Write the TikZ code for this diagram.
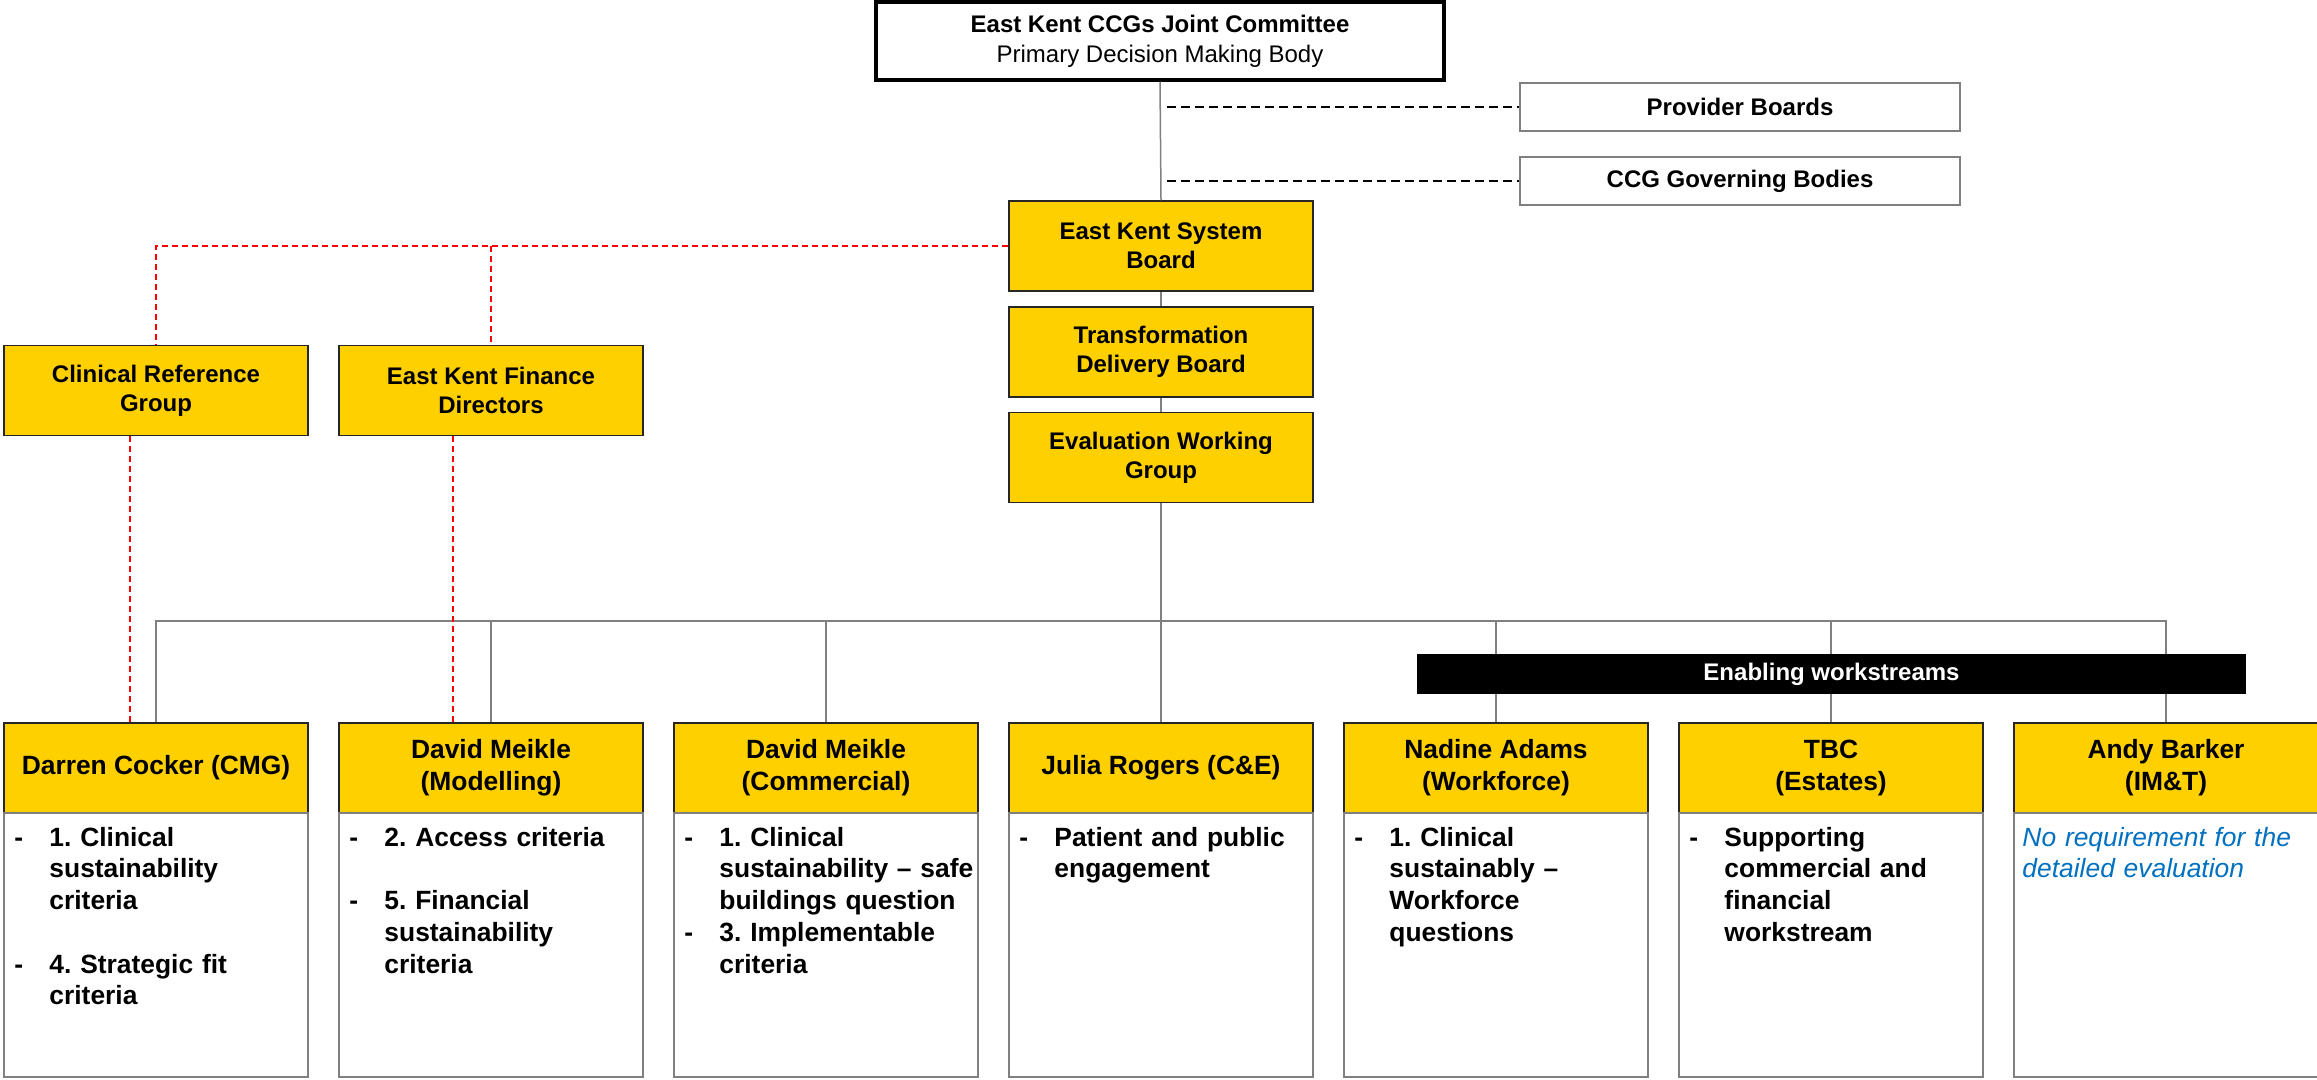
\documentclass[tikz,border=0pt]{standalone}
\usepackage{fontspec}
\setmainfont{Liberation Sans}
\usetikzlibrary{calc}
\frenchspacing
\definecolor{ykyellow}{RGB}{255,208,0}
\definecolor{lgrey}{RGB}{128,128,128}
\definecolor{rdred}{RGB}{255,0,0}
\definecolor{nblue}{RGB}{0,112,192}
\newcommand\upfont{\fontsize{24pt}{28.8pt}\selectfont\bfseries}
\newcommand\lowfont{\fontsize{26.4pt}{31.7pt}\selectfont\bfseries\frenchspacing}
\newcommand\dsh{\makebox[35pt][l]{-}}
\newcommand\ind{\hspace*{35pt}}
\begin{document}
\begin{tikzpicture}[x=1pt,y=-1pt,
  ybox/.style={draw=black!85, line width=1.5pt, fill=ykyellow, minimum width=304pt, minimum height=90pt, inner sep=0pt, align=center, font=\upfont},
  hdr/.style={ybox, font=\lowfont},
  bodybox/.style={draw=lgrey, line width=1.5pt, fill=white, minimum width=304pt, minimum height=264pt, inner sep=0pt},
  wbox/.style={draw=lgrey, line width=1.5pt, fill=white, minimum width=440pt, minimum height=48pt, inner sep=0pt, font=\upfont},
  bodytext/.style={anchor=base west, inner sep=0pt, align=left, text width=300pt, font=\lowfont},
  conn/.style={draw=lgrey, line width=1.5pt},
  rdash/.style={draw=rdred, line width=2pt, dash pattern=on 6pt off 4pt},
  bdash/.style={draw=black, line width=1.5pt, dash pattern=on 9pt off 5pt},
]
\useasboundingbox[fill=white] (0,0) rectangle (2317,1079);

% top levels
\node[draw=black, line width=3.5pt, fill=white, minimum width=568pt, minimum height=78pt, inner sep=0pt, align=center, font=\fontsize{24pt}{30pt}\selectfont] (top) at (1160,41) {\textbf{East Kent CCGs Joint Committee}\\Primary Decision Making Body};
\node[wbox] (pb) at (1740,107) {Provider Boards};
\node[wbox] (cgb) at (1740,181) {CCG Governing Bodies};
\node[ybox] (esb) at (1161,246) {East Kent System\\Board};
\node[ybox] (tdb) at (1161,352) {Transformation\\Delivery Board};
\node[ybox] (ewg) at (1161,457.5) {Evaluation Working\\Group};
\node[ybox] (crg) at (156,390.5) {Clinical Reference\\Group};
\node[ybox] (fd) at (491,390.5) {East Kent Finance\\Directors};

% bottom boxes
\node[hdr] (h1) at (156,768) {Darren Cocker (CMG)};
\node[hdr] (h2) at (491,768) {David Meikle\\(Modelling)};
\node[hdr] (h3) at (826,768) {David Meikle\\(Commercial)};
\node[hdr] (h4) at (1161,768) {Julia Rogers (C\&E)};
\node[hdr] (h5) at (1496,768) {Nadine Adams\\(Workforce)};
\node[hdr] (h6) at (1831,768) {TBC\\(Estates)};
\node[hdr] (h7) at (2166,768) {Andy Barker\\(IM\&T)};

\node[bodybox] (b1) at (156,945) {};
\node[bodybox] (b2) at (491,945) {};
\node[bodybox] (b3) at (826,945) {};
\node[bodybox] (b4) at (1161,945) {};
\node[bodybox] (b5) at (1496,945) {};
\node[bodybox] (b6) at (1831,945) {};
\node[bodybox] (b7) at (2166,945) {};

\node[bodytext] (t1) at ($(b1.north west)+(11,34)$) {\dsh 1. Clinical\\ \ind sustainability\\ \ind criteria\\[31.7pt] \dsh 4. Strategic fit\\ \ind criteria};
\node[bodytext] (t2) at ($(b2.north west)+(11,34)$) {\dsh 2. Access criteria\\[31.7pt] \dsh 5. Financial\\ \ind sustainability\\ \ind criteria};
\node[bodytext] (t3) at ($(b3.north west)+(11,34)$) {\dsh 1. Clinical\\ \ind sustainability – safe\\ \ind buildings question\\ \dsh 3. Implementable\\ \ind criteria};
\node[bodytext] (t4) at ($(b4.north west)+(11,34)$) {\dsh Patient and public\\ \ind engagement};
\node[bodytext] (t5) at ($(b5.north west)+(11,34)$) {\dsh 1. Clinical\\ \ind sustainably –\\ \ind Workforce\\ \ind questions};
\node[bodytext] (t6) at ($(b6.north west)+(11,34)$) {\dsh Supporting\\ \ind commercial and\\ \ind financial\\ \ind workstream};
\node[bodytext, text=nblue, font=\fontsize{26.4pt}{31.7pt}\selectfont\itshape] (t7) at ($(b7.north west)+(9,34)$) {No requirement for the\\detailed evaluation};

% connectors
\coordinate (bus) at (0,621);
\draw[conn] (top.south) -- (esb.north);
\draw[conn] (esb.south) -- (tdb.north);
\draw[conn] (tdb.south) -- (ewg.north);
\draw[conn] (ewg.south) -- (h4.north);
\draw[conn] (h1.north) |- (h7.north |- bus) -- (h7.north);
\foreach \n in {h2,h3,h5,h6} \draw[conn] (\n.north) -- (\n.north |- bus);

\draw[bdash] ([xshift=7pt]pb.west -| top.south) -- (pb.west);
\draw[bdash] ([xshift=7pt]cgb.west -| top.south) -- (cgb.west);

\draw[rdash] (esb.west) -| (crg.north);
\draw[rdash] (esb.west -| fd.north) -- (fd.north);
\draw[rdash] ([xshift=-26pt]crg.south) -- ([xshift=-26pt]h1.north);
\draw[rdash] ([xshift=-38pt]fd.south) -- ([xshift=-38pt]h2.north);

% enabling bar
\node[fill=black, minimum width=829pt, minimum height=40pt, inner sep=0pt, text=white, font=\upfont] (bar) at (1831.5,674) {Enabling workstreams};
\end{tikzpicture}
\end{document}
